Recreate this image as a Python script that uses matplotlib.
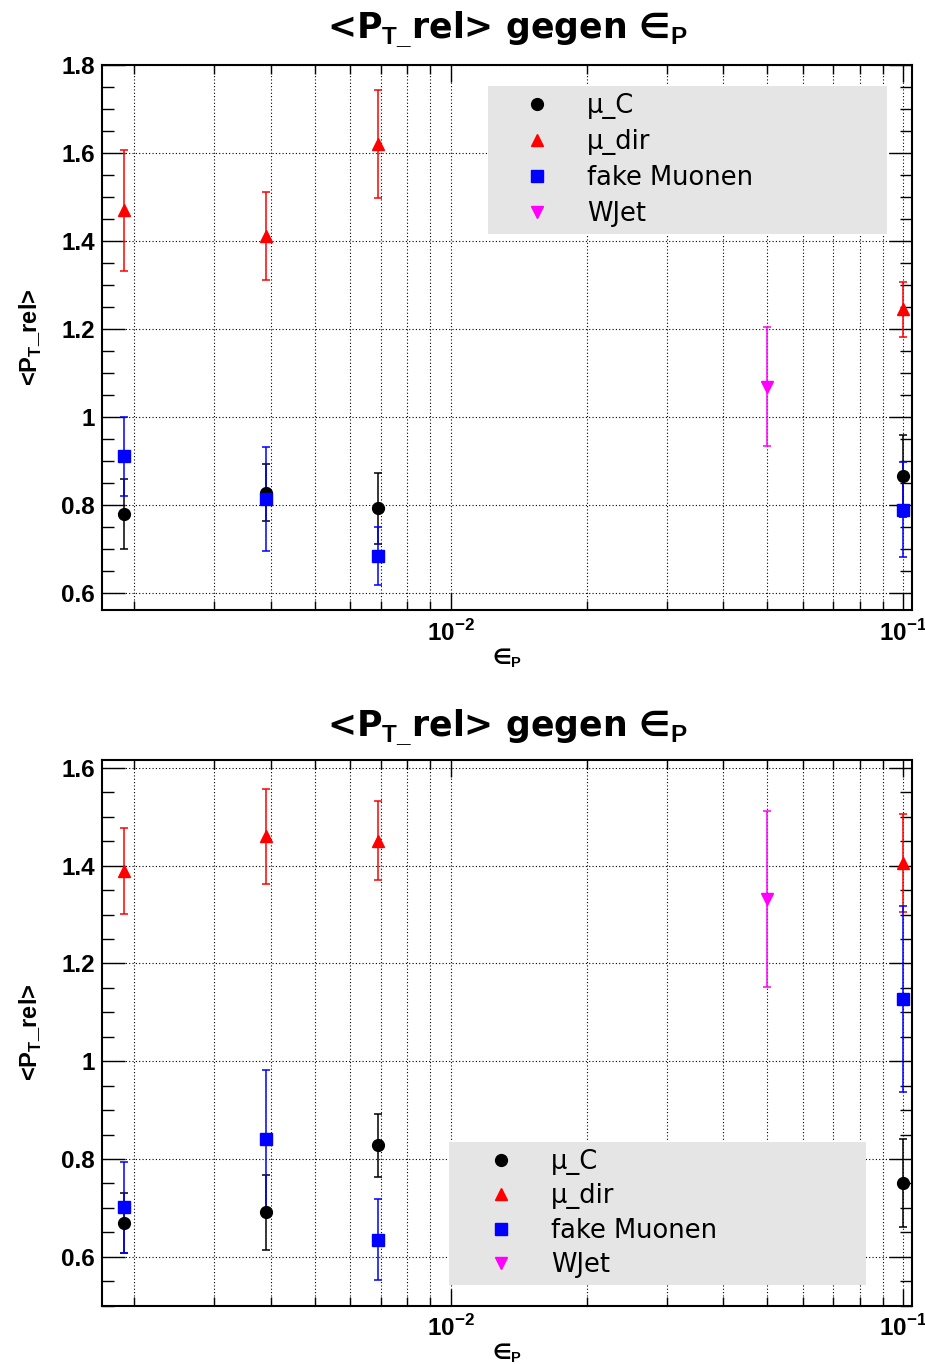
import numpy as np
import matplotlib
matplotlib.use('Agg')
import matplotlib.pyplot as plt
from matplotlib.lines import Line2D
from matplotlib.ticker import LogLocator, NullFormatter, FuncFormatter, MultipleLocator

plt.rcParams['font.family'] = ['Liberation Sans', 'DejaVu Sans']
plt.rcParams['mathtext.fontset'] = 'custom'
plt.rcParams['mathtext.rm'] = 'Liberation Sans'
plt.rcParams['mathtext.bf'] = 'Liberation Sans:bold'

# epsilon_P values of the working points
eps = [0.0019, 0.0039, 0.0069, 0.05, 0.1]
eps_mu = [0.0019, 0.0039, 0.0069, 0.1]
eps_wjet = [0.05]

labels = ['\u03bc_C', '\u03bc_dir', 'fake Muonen', 'WJet']

# upper pad
top_muC = [0.78, 0.828, 0.793, 0.866]
top_muC_err = [0.08, 0.065, 0.08, 0.093]
top_mudir = [1.47, 1.411, 1.62, 1.245]
top_mudir_err = [0.137, 0.1, 0.122, 0.062]
top_fake = [0.911, 0.814, 0.685, 0.790]
top_fake_err = [0.09, 0.118, 0.066, 0.107]
top_wjet = [1.069]
top_wjet_err = [0.135]

# lower pad
bot_muC = [0.669, 0.691, 0.828, 0.751]
bot_muC_err = [0.062, 0.077, 0.064, 0.09]
bot_mudir = [1.39, 1.46, 1.451, 1.405]
bot_mudir_err = [0.088, 0.097, 0.081, 0.1]
bot_fake = [0.701, 0.840, 0.635, 1.128]
bot_fake_err = [0.093, 0.142, 0.083, 0.19]
bot_wjet = [1.332]
bot_wjet_err = [0.18]

colors = ['black', 'red', 'blue', 'magenta']
markers = ['o', '^', 's', 'v']
msizes = [8.5, 8.6, 8.0, 8.6]

title = '<P$_\\mathbf{T\\_}$rel> gegen \u2208$_\\mathbf{P}$'
ylab = '<P$_\\mathbf{T}$_rel>'
xlab = '\u2208$_\\mathbf{P}$'


def xfmt(v, pos):
    e = int(round(np.log10(v)))
    return '10$^{\\mathbf{%d}}$' % e


def draw_pad(ax, series, ylim, leg_box, leg_space, leg_hl, leg_htp, title_pad):
    for (xs, ys, es), c, m, ms in zip(series, colors, markers, msizes):
        ax.errorbar(xs, ys, yerr=es, fmt=m, color=c, ms=ms, elinewidth=1.1,
                    capsize=2.7, capthick=1.1, zorder=3)
    ax.set_xscale('log')
    ax.set_xlim(0.001694, 0.1045)
    ax.set_ylim(*ylim)
    ax.xaxis.set_major_locator(LogLocator(base=10))
    ax.xaxis.set_minor_locator(LogLocator(base=10, subs=np.arange(2, 10)))
    ax.xaxis.set_major_formatter(FuncFormatter(xfmt))
    ax.xaxis.set_minor_formatter(NullFormatter())
    ax.yaxis.set_major_locator(MultipleLocator(0.2))
    ax.yaxis.set_minor_locator(MultipleLocator(0.05))
    ax.yaxis.set_major_formatter(FuncFormatter(lambda v, p: '%g' % round(v, 2)))
    ax.set_axisbelow(True)
    ax.grid(True, which='major', axis='y', color='black', ls=(0, (1, 2)), lw=0.8)
    ax.grid(True, which='both', axis='x', color='black', ls=(0, (1, 2)), lw=0.8)
    ax.tick_params(axis='both', which='both', direction='in', top=True, right=True,
                   width=1.0, color='black')
    ax.tick_params(axis='y', which='major', length=16.5, pad=5)
    ax.tick_params(axis='y', which='minor', length=8.5)
    ax.tick_params(axis='x', which='major', length=12, pad=7)
    ax.tick_params(axis='x', which='minor', length=6.5)
    for lab in ax.get_yticklabels():
        lab.set_fontsize(17.5)
        lab.set_fontweight('bold')
    for lab in ax.get_xticklabels():
        lab.set_fontsize(17.5)
        lab.set_fontweight('bold')
    for sp in ax.spines.values():
        sp.set_linewidth(1.5)
    ax.set_title(title, fontsize=25, fontweight='bold', family=['DejaVu Sans'], pad=title_pad)
    ax.set_ylabel(ylab, fontsize=17, fontweight='bold')
    ax.yaxis.set_label_coords(-0.071, 0.5)
    ax.set_xlabel(xlab, fontsize=15, fontweight='bold', family=['DejaVu Sans'])
    ax.xaxis.set_label_coords(0.5, -0.066)

    handles = [Line2D([], [], ls='none', marker=m, color=c, ms=ms)
               for c, m, ms in zip(colors, markers, msizes)]
    x0, w, ytop = leg_box
    leg = ax.legend(handles, labels, loc='upper left', bbox_to_anchor=(x0, 0.0, w, ytop),
                    mode='expand', borderaxespad=0, borderpad=0.27, labelspacing=leg_space,
                    handlelength=leg_hl, handletextpad=leg_htp, numpoints=1,
                    prop={'family': 'DejaVu Sans', 'size': 18.5},
                    frameon=True, fancybox=False, facecolor='#e5e5e5', edgecolor='none',
                    framealpha=1.0)
    leg.set_zorder(5)


fig = plt.figure(figsize=(9.25, 13.64), dpi=100)
ax1 = fig.add_axes([0.110, 0.5528, 0.876, 0.3996])
ax2 = fig.add_axes([0.110, 0.0428, 0.876, 0.4003])

draw_pad(ax1,
         [(eps_mu, top_muC, top_muC_err), (eps_mu, top_mudir, top_mudir_err),
          (eps_mu, top_fake, top_fake_err), (eps_wjet, top_wjet, top_wjet_err)],
         (0.562, 1.8), (0.477, 0.492, 0.9615), 0.395, 3.27, 0.29, 19)
draw_pad(ax2,
         [(eps_mu, bot_muC, bot_muC_err), (eps_mu, bot_mudir, bot_mudir_err),
          (eps_mu, bot_fake, bot_fake_err), (eps_wjet, bot_wjet, bot_wjet_err)],
         (0.5, 1.617), (0.4286, 0.5146, 0.2996), 0.331, 3.5, 0.195, 17)

fig.savefig('out.png', dpi=100)
